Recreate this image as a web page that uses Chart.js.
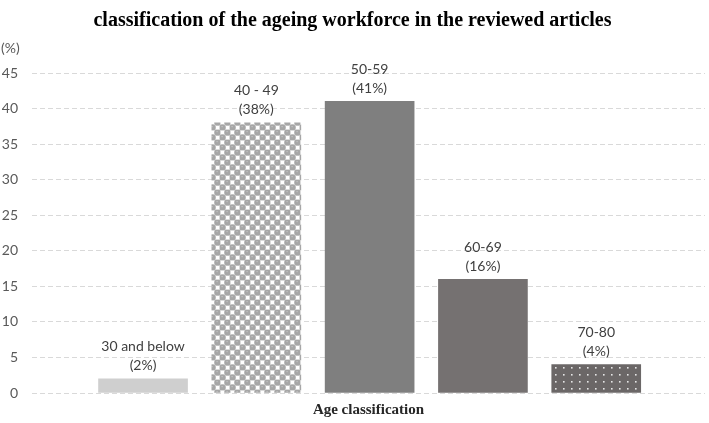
<!DOCTYPE html>
<html>
<head>
<meta charset="utf-8">
<script src="https://cdn.jsdelivr.net/npm/chart.js@4"></script>
<style>
    html, body { margin: 0; background: #fff; }
</style>
</head>
<body>
<canvas id="chart" width="709" height="423"></canvas>
<script>
const categories = ["30 and below", "40 - 49", "50-59", "60-69", "70-80"];
const shares = [2, 38, 41, 16, 4];
const yMax = 45;
const yStep = 5;

// small tiles for the two patterned bars
const makePattern = (size, draw) => {
    const tile = document.createElement("canvas");
    tile.width = size[0];
    tile.height = size[1];
    draw(tile.getContext("2d"));
    return tile.getContext("2d").createPattern(tile, "repeat");
};

const ballPattern = makePattern([10, 10], (c) => {
    c.fillStyle = "#d2d2d2";
    c.fillRect(0, 0, 10, 10);
    c.fillStyle = "#ffffff";
    c.fillRect(0.8, 0.8, 3.4, 3.4);
    c.fillRect(5.8, 5.8, 3.4, 3.4);
    c.fillStyle = "#a6a6a6";
    c.beginPath();
    c.arc(7.5, 2.5, 3.1, 0, Math.PI * 2);
    c.fill();
    c.beginPath();
    c.arc(2.5, 7.5, 3.1, 0, Math.PI * 2);
    c.fill();
    c.fillStyle = "#c4c4c4";
    c.fillRect(6.5, 1, 1.2, 1.2);
    c.fillRect(1.5, 6, 1.2, 1.2);
});

const dotPattern = makePattern([8, 7], (c) => {
    c.fillStyle = "#6b6767";
    c.fillRect(0, 0, 8, 7);
    c.fillStyle = "#e6e6e6";
    c.fillRect(3, 3, 1.6, 1.6);
});

const barColors = ["#cfcfcf", ballPattern, "#7f7f7f", "#757171", dotPattern];

const barLabels = {
    id: "barLabels",
    afterDatasetsDraw(chart) {
        const ctx = chart.ctx;
        const meta = chart.getDatasetMeta(0);
        ctx.save();
        ctx.font = "14px Lato";
        ctx.fillStyle = "#404040";
        ctx.textAlign = "center";
        ctx.textBaseline = "middle";
        meta.data.forEach((bar, i) => {
            ctx.fillText(categories[i], bar.x, bar.y - 32);
            ctx.fillText("(" + shares[i] + "%)", bar.x, bar.y - 13);
        });

        // unit label above the y axis
        const y = chart.scales.y;
        ctx.fillStyle = "#595959";
        ctx.textAlign = "left";
        ctx.fillText("(%)", 1, y.getPixelForValue(yMax) - 25);
        ctx.restore();
    }
};

new Chart(document.querySelector("#chart").getContext("2d"), {
    type: "bar",
    data: {
        datasets: [{
            data: categories.map((c, i) => ({x: i, y: shares[i]})),
            backgroundColor: barColors,
            borderWidth: 0,
            barThickness: 89
        }]
    },
    options: {
        responsive: false,
        animation: false,
        layout: {padding: {top: 6, left: 0, right: 4, bottom: 2}},
        plugins: {
            legend: {display: false},
            tooltip: {enabled: false},
            title: {
                display: true,
                text: "classification of the ageing workforce in the reviewed articles",
                color: "#000",
                font: {family: "Liberation Serif", size: 20, weight: "bold"},
                padding: {top: 3, bottom: 40}
            }
        },
        scales: {
            x: {
                type: "linear",
                offset: false,
                min: -0.98,
                max: 4.96,
                ticks: {display: false},
                grid: {display: false},
                border: {display: false},
                title: {
                    display: true,
                    text: "Age classification",
                    color: "#262626",
                    font: {family: "Liberation Serif", size: 15, weight: "bold"},
                    padding: {top: 0, bottom: 2}
                }
            },
            y: {
                min: 0,
                max: yMax,
                afterFit: (scale) => { scale.width = 32; },
                ticks: {
                    stepSize: yStep,
                    color: "#595959",
                    font: {family: "Lato", size: 14},
                    padding: 14
                },
                grid: {color: "#d9d9d9", drawTicks: false},
                border: {display: false, dash: [5, 3]}
            }
        }
    },
    plugins: [barLabels]
});
</script>
</body>
</html>
